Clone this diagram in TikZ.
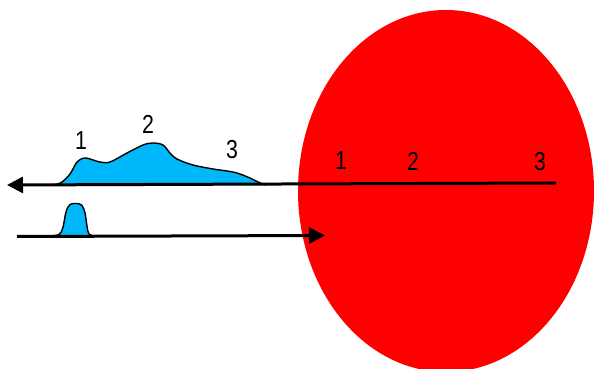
\documentclass[tikz,border=0pt]{standalone}
\usepackage{fontspec}
\setmainfont{Liberation Sans}
\usetikzlibrary{arrows.meta}
\definecolor{pulseblue}{RGB}{0,183,250}
\definecolor{bigred}{RGB}{255,0,0}
\tikzset{
  beam/.style={line width=3pt,-{Triangle[length=16pt,width=16pt]}},
  pulse/.style={fill=pulseblue,draw=black,line width=1.4pt,line join=round},
  lab/.style={inner sep=0pt,font=\fontsize{26}{26}\selectfont}
}
\newcommand{\dg}[1]{\scalebox{0.82}[1]{#1}}
\begin{document}
\begin{tikzpicture}[x=1pt,y=-1pt]
\useasboundingbox (0,0) rectangle (595,369);
\begin{scope}
\clip (0,0) rectangle (595,369);
\fill[bigred] (446,191) ellipse [x radius=148, y radius=181];
\end{scope}
% upper reflected pulse
\path[pulse] plot[smooth,tension=0.55] coordinates {(40,185) (55,184.5) (62,182) (70,174) (77,162) (84,158) (90,159) (100,162) (110,162) (127,153) (143,145) (153,143) (163,145) (170,153) (177,159) (193,165) (213,169) (227,171) (237,173) (250,178) (258,182) (266,185)};
% lower incident pulse
\path[pulse] plot[smooth,tension=0.55] coordinates {(48,236) (59,234.5) (63,227) (66,212) (70,204.5) (77,203.5) (82,205.5) (85,213) (87,226) (89,234) (96,236)};
% lines
\coordinate (uR) at (556,183);
\coordinate (uL) at (7,185);
\coordinate (lL) at (17,236.5);
\coordinate (lR) at (325,235.5);
\draw[beam] (uR) -- (uL);
\draw[beam] (lL) -- (lR);
% labels
\node[lab] (b1) at (81,141) {\dg{1}};
\node[lab] (b2) at (148,124) {\dg{2}};
\node[lab] (b3) at (232,150) {\dg{3}};
\node[lab] (r1) at (341,161) {\dg{1}};
\node[lab] (r2) at (413,161) {\dg{2}};
\node[lab] (r3) at (540,162) {\dg{3}};
\end{tikzpicture}
\end{document}
